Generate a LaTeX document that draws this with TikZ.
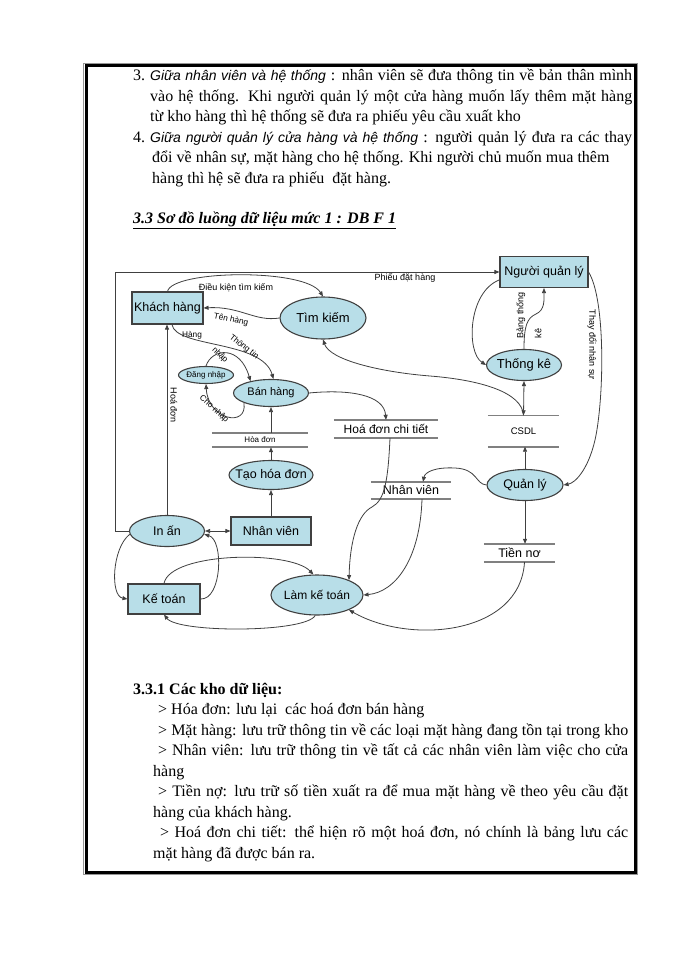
\documentclass[tikz,border=0pt]{standalone}
\usepackage{fontspec}
\setmainfont{Liberation Serif}
\newfontfamily\arial{Liberation Sans}
\usetikzlibrary{arrows.meta,calc,shapes.geometric}
\definecolor{procfill}{RGB}{184,222,232}
\definecolor{edgegray}{RGB}{64,64,64}
\definecolor{storegray}{RGB}{128,128,128}
\definecolor{framegray}{RGB}{150,150,150}
\newcommand{\zw}[1]{\makebox[0pt]{#1}}
\newcommand{\jline}[2]{\makebox[#1][s]{#2}}
\newcommand{\sit}[1]{{\arial\itshape\fontsize{14}{18}\selectfont #1}}

\begin{document}
\begin{tikzpicture}[x=1pt,y=-1pt,>={Triangle[length=5pt,width=4pt]},
  body/.style={anchor=base west,inner sep=0,font=\fontsize{16}{19}\selectfont},
  proc/.style n args={2}{ellipse,draw=edgegray,line width=1.1pt,fill=procfill,
    minimum width=#1,minimum height=#2,inner sep=0,font=\arial\fontsize{12.5}{14}\selectfont},
  agent/.style n args={2}{rectangle,draw=edgegray,line width=1.1pt,fill=procfill,
    minimum width=#1,minimum height=#2,inner sep=0,font=\arial\fontsize{12.5}{14}\selectfont},
  store/.style n args={2}{minimum width=#1,minimum height=#2,inner sep=0,
    font=\arial\fontsize{12.5}{14}\selectfont},
  storeline/.style={storegray,line width=1.6pt},
  flow/.style={->,edgegray,line width=0.8pt},
  lbl/.style={inner sep=0,font=\arial\fontsize{9}{11}\selectfont},
  small/.style={font=\arial\fontsize{8.3}{10}\selectfont}]

  % --- page and frame
  \fill[white] (0,0) rectangle (700,960);
  \useasboundingbox (0,0) rectangle (700,960);
  \draw[framegray,line width=1.5pt] (83.5,63.5) rectangle (637.5,874.5);
  \draw[black,line width=3pt] (86,66) rectangle (635,872);

  % --- text above the diagram
  \node[body] (n3) at (133,81) {3.};
  \node[body] (t1) at (150,81) {\jline{482pt}{\sit{Giữa nhân viên và hệ thống} : nhân viên sẽ đưa thông tin về bản thân mình}};
  \node[body] (t2) at (150,101.5) {\jline{482pt}{vào hệ thống. Khi người quản lý một cửa hàng muốn lấy thêm mặt hàng}};
  \node[body] (t3) at (150,122) {từ kho hàng thì hệ thống sẽ đưa ra phiếu yêu cầu xuất kho};
  \node[body] (n4) at (133,142.5) {4.};
  \node[body] (t4) at (150,142.5) {\jline{482pt}{\sit{Giữa người quản lý cửa hàng và hệ thống} : người quản lý đưa ra các thay}};
  \node[body] (t5) at (152,163) {đổi về nhân sự, mặt hàng cho hệ thống. Khi người chủ muốn mua thêm};
  \node[body] (t6) at (152,183.5) {hàng thì hệ sẽ đưa ra phiếu\ \ đặt hàng.};
  \node[body] (head) at (133,223) {\underline{\textbf{\textit{3.3 Sơ đồ luồng dữ liệu mức 1 : DB F 1}}}};

  % --- processes and agents
  \node[agent={71}{32}] (kh) at (167.5,308) {\zw{Khách hàng}};
  \node[proc={86}{42},font=\arial\fontsize{13}{14}\selectfont] (tk) at (323,318) {\zw{Tìm kiếm}};
  \node[proc={55}{17},font=\arial\fontsize{8}{9}\selectfont] (dn) at (206,375) {\zw{Đăng nhập}};
  \node[proc={75}{27},font=\arial\fontsize{11}{12}\selectfont] (bh) at (271,393) {\zw{Bán hàng}};
  \node[proc={84}{29}] (thd) at (271,475) {\zw{Tạo hóa đơn}};
  \node[agent={80}{28}] (nv) at (271,531) {\zw{Nhân viên}};
  \node[proc={75}{31}] (ia) at (167,531) {\zw{In ấn}};
  \node[agent={72}{30}] (kt) at (164,599) {\zw{Kế toán}};
  \node[proc={92}{40},font=\arial\fontsize{12}{14}\selectfont] (lkt) at (317,595) {\zw{Làm kế toán}};
  \node[agent={88}{31}] (nql) at (544,272) {\zw{Người quản lý}};
  \node[proc={75}{31},font=\arial\fontsize{13}{14}\selectfont] (tke) at (524,365) {\zw{Thống kê}};
  \node[proc={76}{31}] (ql) at (525,485) {\zw{Quản lý}};

  % --- data stores
  \node[store={96}{14},font=\arial\fontsize{8}{9}\selectfont] (sHD) at (260,440) {Hòa đơn\hspace{20pt}};
  \node[store={104}{18},font=\arial\fontsize{12}{14}\selectfont] (sCT) at (386,429) {Hoá đơn chi tiết};
  \node[store={80}{17}] (sNV) at (411,490.5) {Nhân viên};
  \node[store={71}{31},font=\arial\fontsize{9.5}{11}\selectfont] (sCSDL) at (523.5,431) {CSDL};
  \node[store={71}{18}] (sTN) at (519.5,553) {Tiền nơ\hspace{6pt}};
  \foreach \s in {sHD,sCT,sNV,sCSDL,sTN}
    \draw[storeline] (\s.north west) -- (\s.north east) (\s.south west) -- (\s.south east);

  % --- Khách hàng, Tìm kiếm, Bán hàng
  \draw[flow] (ia.west) -- ++(-14,0) |- (nql.west);
  \node[lbl] (lPD) at (405,278) {Phiếu đặt hàng};
  \draw[flow] (kh.north) .. controls (172,270) and (305,268) .. (tk.north);
  \node[lbl] (lDK) at (236,288) {Điều kiện tìm kiếm};
  \draw[flow] (tk.west) .. controls (255,322) and (240,306) .. (kh.east);
  \node[lbl,small,rotate=-12] (lTH) at (231,320) {Tên hàng};
  \draw[flow] (kh.-75) .. controls (176,348) and (262,340) .. (bh.80);
  \node[lbl,small] (lH) at (192,335) {Hàng};
  \node[lbl,small,rotate=-38] (lTT) at (244,347) {Thông tin};
  \draw[flow] (dn.north) .. controls (212,348) and (240,345) .. (bh.150);
  \node[lbl,small,rotate=-45] (lN) at (220,355) {nhập};
  \draw[flow] (bh.200) .. controls (248,428) and (208,420) .. (dn.south);
  \node[lbl,small,rotate=-42] (lCN) at (214,409) {Cho nhập};

  % --- hoá đơn column
  \draw[flow] (sHD.north -| bh.south) -- (bh.south);
  \draw[flow] (thd.north) -- (thd.north |- sHD.south);
  \draw[flow] (nv.north) -- (thd.south);
  \draw[<->,edgegray,line width=0.8pt] (ia.east) -- (nv.west);
  \draw[flow] (ia.north) -- (ia.north |- kh.south);
  \node[lbl,rotate=-90] (lHD) at (174,405) {Hoá đơn};

  % --- Kế toán
  \draw[flow] (ia.185) .. controls (112,548) and (110,596) .. (kt.west);
  \draw[flow] (kt.east) .. controls (222,600) and (224,540) .. (ia.-5);
  \draw[flow] (kt.north) .. controls (170,552) and (290,550) .. (lkt.100);
  \draw[flow] (lkt.-95) .. controls (305,633) and (178,633) .. (kt.south);

  % --- stores to Làm kế toán
  \draw[flow] ($(sCT.south)+(4,0)$) .. controls (388,480) and (385,500) .. (372,507)
              .. controls (358,514) and (350,540) .. (lkt.25);
  \draw[flow] ($(sNV.south)+(11,0)$) .. controls (420,560) and (395,592) .. (lkt.east);
  \draw[flow] ($(sTN.south)+(5,0)$) .. controls (520,635) and (410,645) .. (lkt.-25);

  % --- Quản lý
  \draw[flow] (ql.north) -- (ql.north |- sCSDL.south);
  \draw[flow] (ql.south) -- (ql.south |- sTN.north);
  \draw[flow] (ql.west) .. controls (475,484) and (478,469) .. (455,468)
              .. controls (435,467) and (425,472) .. ($(sNV.north)+(12,0)$);

  % --- Người quản lý, Thống kê, CSDL
  \draw[flow] (nql.east) .. controls (606,300) and (604,400) .. (595,440)
              .. controls (588,470) and (575,483) .. (ql.east);
  \node[lbl,rotate=-90] (lTD) at (592,345) {Thay đổi nhân sự};
  \draw[flow] (nql.190) .. controls (468,292) and (466,352) .. (tke.west);
  \draw[flow] (tke.north) .. controls (524,326) and (527,318) .. (536,314)
              .. controls (545,310) and (544,300) .. (nql.south);
  \node[lbl,rotate=90,align=left,font=\arial\fontsize{9}{18}\selectfont] (lBT) at (529,315) {Bảng thống\\kê};
  \draw[<->,edgegray,line width=0.8pt] (tke.south) -- (sCSDL.north);
  \draw[flow] (sCSDL.north) .. controls (522,392) and (480,380) .. (430,376)
              .. controls (380,372) and (330,360) .. (tk.south);
  \draw[flow] (bh.east) .. controls (350,389) and (384,395) .. (sCT.north);

  % --- text below the diagram
  \node[body] (h331) at (133,694) {\textbf{3.3.1 Các kho dữ liệu:}};
  \node[body] (k1) at (158,714.5) {> Hóa đơn: lưu lại\ \ các hoá đơn bán hàng};
  \node[body] (k2) at (158,735) {\jline{470pt}{> Mặt hàng: lưu trữ thông tin về các loại mặt hàng đang tồn tại trong kho}};
  \node[body] (k3) at (158,755.5) {\jline{470pt}{> Nhân viên: lưu trữ thông tin về tất cả các nhân viên làm việc cho cửa}};
  \node[body] (k3b) at (153,776) {hàng};
  \node[body] (k4) at (158,796.5) {\jline{470pt}{> Tiền nợ: lưu trữ số tiền xuất ra để mua mặt hàng về theo yêu cầu đặt}};
  \node[body] (k4b) at (153,817) {hàng của khách hàng.};
  \node[body] (k5) at (160,837.5) {\jline{468pt}{> Hoá đơn chi tiết: thể hiện rõ một hoá đơn, nó chính là bảng lưu các}};
  \node[body] (k5b) at (153,858) {mặt hàng đã được bán ra.};
\end{tikzpicture}
\end{document}
